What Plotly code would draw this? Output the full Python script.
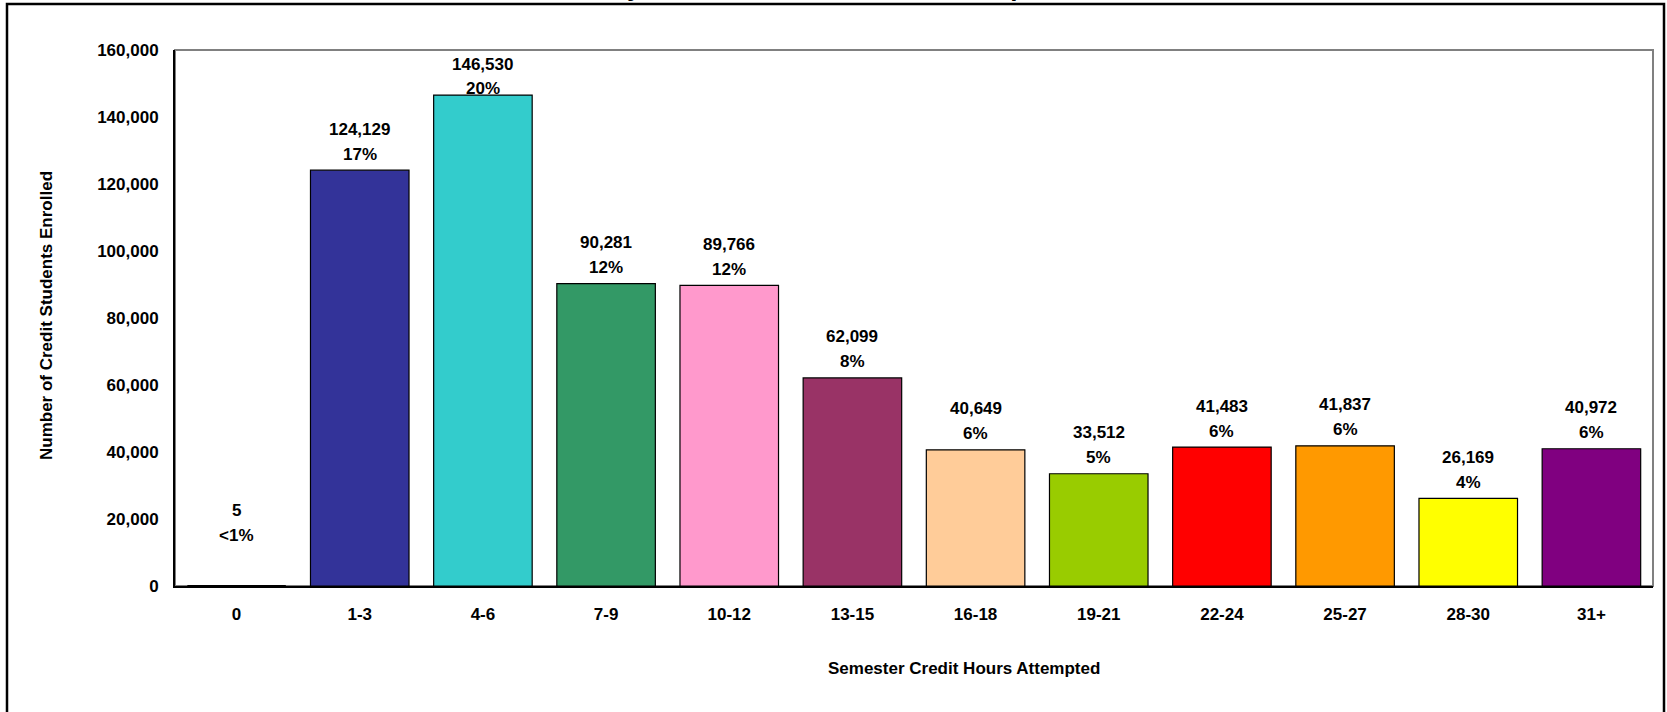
import plotly.graph_objects as go

categories = ["0", "1-3", "4-6", "7-9", "10-12", "13-15", "16-18", "19-21", "22-24", "25-27", "28-30", "31+"]
students = [5, 124129, 146530, 90281, 89766, 62099, 40649, 33512, 41483, 41837, 26169, 40972]
percent_labels = ["<1%", "17%", "20%", "12%", "12%", "8%", "6%", "5%", "6%", "6%", "4%", "6%"]
bar_colors = ["#000000", "#333399", "#33CCCC", "#339966", "#FF99CC", "#993366", "#FFCC99",
              "#99CC00", "#FF0000", "#FF9900", "#FFFF00", "#800080"]
y_ticks = [0, 20000, 40000, 60000, 80000, 100000, 120000, 140000, 160000]

W, H = 1667, 712
L, R, T, B = 175, 14, 50, 126
PW, PH = W - L - R, H - T - B

def px_x(p):
    return (p - L) / PW

def px_y(p):
    return (H - B - p) / PH

FONT = "Arial, Liberation Sans, sans-serif"

line_widths = [0 if v < 1000 else 1.2 for v in students]

fig = go.Figure()
fig.add_trace(go.Bar(
    x=categories, y=students, width=0.8,
    marker=dict(color=bar_colors, line=dict(color="black", width=line_widths)),
    hoverinfo="x+y", showlegend=False,
))

annotations = []
for i, (c, v, p) in enumerate(zip(categories, students, percent_labels)):
    if i == 0:
        pct_shift, val_shift = 50, 75
    elif v > 140000:
        pct_shift, val_shift = 7, 31
    else:
        pct_shift, val_shift = 16, 41
    annotations.append(dict(x=c, y=v, xref="x", yref="y", text=p, showarrow=False,
                            yanchor="middle", yshift=pct_shift,
                            font=dict(family=FONT, size=17, color="black", weight="bold")))
    annotations.append(dict(x=c, y=v, xref="x", yref="y", text=f"{v:,}", showarrow=False,
                            yanchor="middle", yshift=val_shift,
                            font=dict(family=FONT, size=17, color="black", weight="bold")))

# axis titles
annotations.append(dict(x=px_x(964), y=px_y(668), xref="paper", yref="paper",
                        text="Semester Credit Hours Attempted", showarrow=False,
                        xanchor="center", yanchor="middle",
                        font=dict(family=FONT, size=17, color="black", weight="bold")))
annotations.append(dict(x=px_x(46), y=px_y(316), xref="paper", yref="paper",
                        text="Number of Credit Students Enrolled", showarrow=False,
                        textangle=-90, xanchor="center", yanchor="middle",
                        font=dict(family=FONT, size=17, color="black", weight="bold")))
# chart title (mostly cut off at the top edge, as in the reference)
annotations.append(dict(x=px_x(838), y=px_y(4), xref="paper", yref="paper",
                        text="by Semester Credit Hours Attempted", showarrow=False,
                        xanchor="center", yanchor="bottom",
                        font=dict(family=FONT, size=26, color="black", weight="bold")))

shapes = [
    # plot area border (gray)
    dict(type="rect", xref="paper", yref="paper", x0=0, x1=1, y0=0, y1=1,
         line=dict(color="#808080", width=2), layer="below"),
    # outer chart frame
    dict(type="rect", xref="paper", yref="paper",
         x0=px_x(7), x1=px_x(1664), y0=px_y(740), y1=px_y(4),
         line=dict(color="black", width=2.5), layer="above"),
]

fig.update_layout(
    width=W, height=H,
    margin=dict(l=L, r=R, t=T, b=B, pad=0),
    paper_bgcolor="white", plot_bgcolor="white",
    font=dict(family=FONT, size=17, color="black", weight="bold"),
    bargap=0.2,
    annotations=annotations,
    shapes=shapes,
    xaxis=dict(showgrid=False, showline=True, linecolor="black", linewidth=2,
               ticks="", ticklabelstandoff=12, zeroline=False,
               tickfont=dict(family=FONT, size=17, color="black", weight="bold")),
    yaxis=dict(range=[0, 160000], tickvals=y_ticks, tickformat=",", showgrid=False,
               showline=True, linecolor="black", linewidth=2, ticks="",
               ticklabelstandoff=11, zeroline=False,
               tickfont=dict(family=FONT, size=17, color="black", weight="bold")),
)

fig.write_html("out.html", config={"displayModeBar": False},
               post_script="document.body.style.margin='0px';document.body.style.overflow='hidden';")
